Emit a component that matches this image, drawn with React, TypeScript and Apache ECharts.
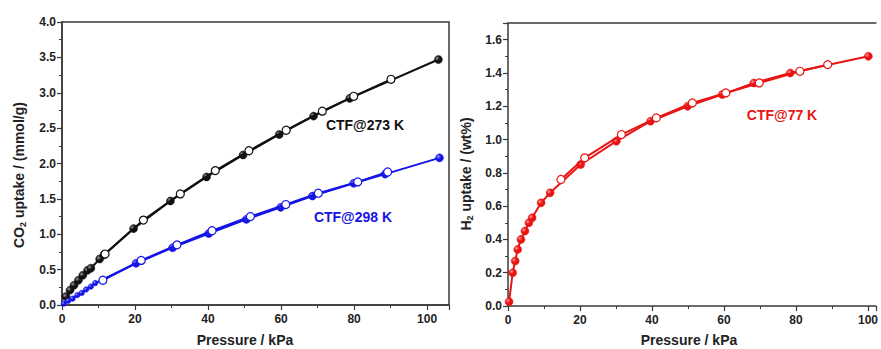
import React, { useEffect, useRef } from "react";
import * as echarts from "echarts";

// CO2 uptake at 273 K (mmol/g)
const co2_273_ads_p = [1.1, 2.2, 3.3, 4.5, 5.7, 7.0, 7.9, 10.3, 11.5, 19.6, 29.7, 39.6, 49.6, 59.5, 68.9, 78.8, 103.1];
const co2_273_ads_u = [0.12, 0.21, 0.28, 0.35, 0.42, 0.49, 0.52, 0.65, 0.71, 1.08, 1.47, 1.81, 2.12, 2.41, 2.67, 2.92, 3.47];
const co2_273_des_p = [90.1, 79.9, 71.3, 61.4, 51.2, 42.0, 32.4, 22.3, 11.8];
const co2_273_des_u = [3.19, 2.95, 2.74, 2.47, 2.18, 1.9, 1.57, 1.2, 0.72];

// CO2 uptake at 298 K (mmol/g)
const co2_298_ads_p = [0.5, 1.7, 2.9, 4.2, 5.4, 6.6, 7.9, 9.1, 20.3, 30.3, 40.2, 50.5, 59.9, 68.6, 79.9, 88.5, 103.4];
const co2_298_ads_u = [0.02, 0.06, 0.09, 0.14, 0.17, 0.22, 0.26, 0.31, 0.59, 0.81, 1.01, 1.21, 1.38, 1.54, 1.72, 1.85, 2.08];
const co2_298_des_p = [89.2, 81.0, 70.2, 61.3, 51.6, 41.1, 31.5, 21.7, 11.2];
const co2_298_des_u = [1.88, 1.74, 1.58, 1.42, 1.25, 1.05, 0.85, 0.63, 0.35];

// H2 uptake at 77 K (wt%)
const h2_77_ads_p = [0.3, 1.3, 2.0, 2.7, 3.6, 4.7, 5.8, 6.7, 9.2, 11.7, 20.2, 30.1, 39.6, 49.9, 59.5, 68.3, 78.4, 100.1];
const h2_77_ads_u = [0.026, 0.2, 0.27, 0.34, 0.4, 0.45, 0.5, 0.53, 0.62, 0.68, 0.85, 0.99, 1.11, 1.2, 1.27, 1.34, 1.4, 1.5];
const h2_77_des_p = [88.8, 81.1, 69.8, 60.5, 51.2, 41.2, 31.5, 21.3, 14.7];
const h2_77_des_u = [1.45, 1.41, 1.34, 1.28, 1.22, 1.13, 1.03, 0.89, 0.76];

const seriesLabels = ["CTF@273 K", "CTF@298 K", "CTF@77 K"];

const zip = (a: number[], b: number[]) => a.map((v, i) => [v, b[i]]);

const FONT = "Liberation Sans";
const AXIS_COLOR = "#3a3a3a";
const BLACK = "#111111";
const BLUE = "#1414e6";
const RED = "#e81414";

const shade = (light: string, dark: string) => ({
  type: "radial",
  x: 0.35,
  y: 0.35,
  r: 0.7,
  colorStops: [
    { offset: 0, color: light },
    { offset: 0.45, color: dark },
    { offset: 1, color: dark },
  ],
});

function xAxisCfg(gridIndex: number, max: number) {
  return {
    type: "value",
    gridIndex,
    min: 0,
    max,
    interval: 20,
    axisLine: { show: true, onZero: false, lineStyle: { color: AXIS_COLOR, width: 1.5 } },
    axisTick: { show: true, inside: false, length: 5, lineStyle: { color: AXIS_COLOR, width: 1.2 } },
    minorTick: { show: true, splitNumber: 2, length: 3, lineStyle: { color: AXIS_COLOR, width: 1 } },
    splitLine: { show: false },
    axisLabel: {
      showMaxLabel: false,
      fontFamily: FONT,
      fontWeight: "bold",
      fontSize: 12,
      color: "#222",
      margin: 8,
    },
  };
}

function yAxisCfg(gridIndex: number, max: number, interval: number) {
  return {
    type: "value",
    gridIndex,
    min: 0,
    max,
    interval,
    axisLine: { show: true, onZero: false, lineStyle: { color: AXIS_COLOR, width: 1.5 } },
    axisTick: { show: true, inside: false, length: 5, lineStyle: { color: AXIS_COLOR, width: 1.2 } },
    minorTick: { show: true, splitNumber: 2, length: 3, lineStyle: { color: AXIS_COLOR, width: 1 } },
    splitLine: { show: false },
    axisLabel: {
      fontFamily: FONT,
      fontWeight: "bold",
      fontSize: 12,
      color: "#222",
      margin: 6,
      formatter: (v: number) => (Math.abs(v / interval - Math.round(v / interval)) > 1e-6 ? "" : v.toFixed(1)),
    },
  };
}

function lineSeries(
  name: string,
  data: number[][],
  idx: number,
  color: string,
  filled: boolean,
  light: string,
  sizeFn?: (v: number[]) => number
) {
  return {
    type: "line",
    name,
    xAxisIndex: idx,
    yAxisIndex: idx,
    data,
    symbol: "circle",
    symbolSize: sizeFn ? (v: number[]) => sizeFn(v) : 8,
    lineStyle: { color, width: 2 },
    itemStyle: filled
      ? { color: shade(light, color), borderColor: color, borderWidth: 0.5 }
      : { color: "#ffffff", borderColor: color, borderWidth: 1.2 },
    z: filled ? 2 : 3,
    silent: true,
  };
}

export default function App() {
  const ref = useRef<HTMLDivElement>(null);

  useEffect(() => {
    if (!ref.current) return;
    const chart = echarts.init(ref.current, null, { renderer: "svg" });

    const smallLowP = (v: number[]) => (v[0] < 10 ? 5.5 : 8);

    const option: any = {
      animation: false,
      backgroundColor: "#ffffff",
      grid: [
        { left: 62, top: 22, width: 387, height: 283, show: true, borderColor: AXIS_COLOR, borderWidth: 1.5, backgroundColor: "transparent" },
        { left: 508, top: 23, width: 373, height: 283, show: false },
      ],
      xAxis: [
        xAxisCfg(0, 106),
        xAxisCfg(1, 102.2),
        {
          type: "value",
          gridIndex: 1,
          position: "top",
          min: 0,
          max: 102.2,
          axisLine: { show: true, onZero: false, lineStyle: { color: AXIS_COLOR, width: 1.5 } },
          axisTick: { show: false },
          axisLabel: { show: false },
          splitLine: { show: false },
        },
      ],
      yAxis: [yAxisCfg(0, 4, 0.5), yAxisCfg(1, 1.7, 0.2)],
      series: [
        lineSeries("273 ads", zip(co2_273_ads_p, co2_273_ads_u), 0, BLACK, true, "#9a9a9a"),
        lineSeries("273 des", zip(co2_273_des_p, co2_273_des_u), 0, BLACK, false, ""),
        lineSeries("298 ads", zip(co2_298_ads_p, co2_298_ads_u), 0, BLUE, true, "#9a9aff", smallLowP),
        lineSeries("298 des", zip(co2_298_des_p, co2_298_des_u), 0, BLUE, false, ""),
        lineSeries("77 ads", zip(h2_77_ads_p, h2_77_ads_u), 1, RED, true, "#ff9a9a"),
        lineSeries("77 des", zip(h2_77_des_p, h2_77_des_u), 1, RED, false, ""),
      ],
      graphic: [
        {
          type: "text",
          x: 19,
          y: 175,
          rotation: Math.PI / 2,
          style: {
            text: "CO{sub|2} uptake / (mmol/g)",
            fontFamily: FONT,
            fontWeight: "bold",
            fontSize: 14,
            fill: "#222",
            align: "center",
            verticalAlign: "middle",
            rich: {
              sub: { fontFamily: FONT, fontWeight: "bold", fontSize: 9, fill: "#222", padding: [8, 0, 0, 0] },
            },
          },
        },
        {
          type: "text",
          x: 466,
          y: 174,
          rotation: Math.PI / 2,
          style: {
            text: "H{sub|2} uptake / (wt%)",
            fontFamily: FONT,
            fontWeight: "bold",
            fontSize: 14,
            fill: "#222",
            align: "center",
            verticalAlign: "middle",
            rich: {
              sub: { fontFamily: FONT, fontWeight: "bold", fontSize: 9, fill: "#222", padding: [8, 0, 0, 0] },
            },
          },
        },
        {
          type: "text",
          x: 245,
          y: 340,
          style: { text: "Pressure / kPa", fontFamily: FONT, fontWeight: "bold", fontSize: 14, fill: "#222", align: "center", verticalAlign: "middle" },
        },
        {
          type: "text",
          x: 689,
          y: 340,
          style: { text: "Pressure / kPa", fontFamily: FONT, fontWeight: "bold", fontSize: 14, fill: "#222", align: "center", verticalAlign: "middle" },
        },
        {
          type: "text",
          x: 365,
          y: 125,
          style: { text: seriesLabels[0], fontFamily: FONT, fontWeight: "bold", fontSize: 14, fill: BLACK, align: "center", verticalAlign: "middle" },
        },
        {
          type: "text",
          x: 353,
          y: 217,
          style: { text: seriesLabels[1], fontFamily: FONT, fontWeight: "bold", fontSize: 14, fill: BLUE, align: "center", verticalAlign: "middle" },
        },
        {
          type: "text",
          x: 782,
          y: 115,
          style: { text: seriesLabels[2], fontFamily: FONT, fontWeight: "bold", fontSize: 14, fill: RED, align: "center", verticalAlign: "middle" },
        },
      ],
    };

    chart.setOption(option);
    return () => chart.dispose();
  }, []);

  return (
    <div
      ref={ref}
      style={{ position: "fixed", left: 0, top: 0, width: 881, height: 349 }}
    />
  );
}
